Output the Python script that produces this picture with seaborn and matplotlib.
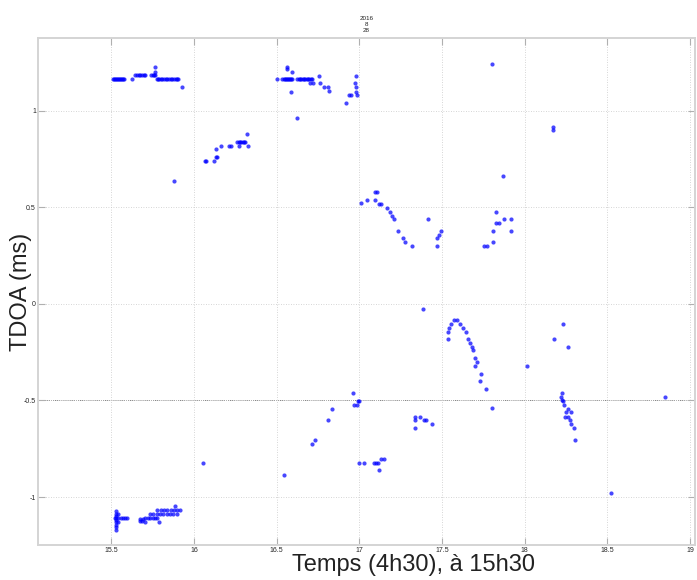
import numpy as np
import pandas as pd
import matplotlib
matplotlib.use("Agg")
import matplotlib.pyplot as plt
import seaborn as sns

# --- TDOA detections, grouped by track (time in decimal hours, TDOA in ms) ---
t_a = [15.512, 15.518, 15.524, 15.530, 15.536, 15.542, 15.548, 15.554, 15.560, 15.566,
       15.572, 15.578, 15.626, 15.646, 15.656, 15.666, 15.676, 15.686, 15.696, 15.706,
       15.741, 15.750, 15.758, 15.767, 15.767, 15.767, 15.775, 15.783, 15.791, 15.800,
       15.810, 15.820, 15.830, 15.840, 15.850, 15.860, 15.870, 15.880, 15.890, 15.898,
       15.906, 15.929, 15.878]
v_a = [1.163, 1.163, 1.163, 1.163, 1.163, 1.163, 1.163, 1.163, 1.163, 1.163,
       1.163, 1.163, 1.163, 1.184, 1.184, 1.184, 1.184, 1.184, 1.184, 1.184,
       1.184, 1.184, 1.184, 1.184, 1.224, 1.201, 1.163, 1.163, 1.163, 1.163,
       1.163, 1.163, 1.163, 1.163, 1.163, 1.163, 1.163, 1.163, 1.163, 1.163,
       1.163, 1.120, 0.638]

t_b = [16.070, 16.076, 16.120, 16.131, 16.141, 16.131, 16.165, 16.211, 16.226, 16.262,
       16.270, 16.278, 16.286, 16.294, 16.302, 16.310, 16.272, 16.319, 16.327]
v_b = [0.739, 0.739, 0.739, 0.759, 0.759, 0.800, 0.818, 0.818, 0.818, 0.839,
       0.839, 0.839, 0.839, 0.839, 0.839, 0.839, 0.818, 0.879, 0.818]

t_c = [16.505, 16.535, 16.542, 16.549, 16.556, 16.563, 16.570, 16.577, 16.584, 16.590,
       16.596, 16.626, 16.634, 16.642, 16.650, 16.658, 16.666, 16.674, 16.682, 16.690,
       16.698, 16.706, 16.717, 16.560, 16.560, 16.596, 16.590, 16.626, 16.703, 16.723,
       16.757, 16.763, 16.787, 16.808, 16.818, 16.919, 16.935, 16.949, 16.980, 16.974,
       16.981, 16.980, 16.986]
v_c = [1.162, 1.162, 1.162, 1.162, 1.162, 1.162, 1.162, 1.162, 1.162, 1.162,
       1.162, 1.162, 1.162, 1.162, 1.162, 1.162, 1.162, 1.162, 1.162, 1.162,
       1.162, 1.162, 1.162, 1.224, 1.215, 1.201, 1.098, 0.960, 1.143, 1.143,
       1.180, 1.141, 1.120, 1.120, 1.100, 1.041, 1.081, 1.081, 1.180, 1.141,
       1.120, 1.098, 1.081]

t_d = [17.010, 17.046, 17.107, 17.095, 17.095, 17.121, 17.131, 17.168, 17.188, 17.196,
       17.208, 17.233, 17.263, 17.279, 17.317, 17.418, 17.471, 17.469, 17.481, 17.495]
v_d = [0.521, 0.538, 0.578, 0.578, 0.538, 0.517, 0.517, 0.498, 0.477, 0.457,
       0.438, 0.377, 0.340, 0.319, 0.298, 0.438, 0.298, 0.340, 0.358, 0.377]

t_e = [17.869, 17.824, 17.824, 17.843, 17.873, 17.915, 17.809, 17.918, 17.809, 17.754,
       17.774, 17.804, 18.174, 18.174]
v_e = [0.662, 0.477, 0.417, 0.417, 0.438, 0.438, 0.377, 0.377, 0.319, 0.298,
       0.298, 1.241, 0.915, 0.900]

t_f = [17.388, 17.536, 17.542, 17.552, 17.576, 17.592, 17.610, 17.627, 17.643, 17.657,
       17.667, 17.681, 17.687, 17.703, 17.713, 17.701, 17.738, 17.732, 17.768, 17.536,
       17.804, 18.017, 18.179, 18.233, 18.263]
v_f = [-0.026, -0.146, -0.126, -0.105, -0.086, -0.086, -0.105, -0.126, -0.146, -0.181,
       -0.200, -0.221, -0.241, -0.281, -0.301, -0.321, -0.362, -0.400, -0.441, -0.181,
       -0.541, -0.321, -0.181, -0.105, -0.221]

t_g = [18.229, 18.219, 18.227, 18.233, 18.237, 18.263, 18.253, 18.279, 18.243, 18.263,
       18.273, 18.283, 18.297, 18.303]
v_g = [-0.462, -0.484, -0.500, -0.505, -0.522, -0.543, -0.562, -0.562, -0.583, -0.586,
       -0.603, -0.622, -0.640, -0.703]

t_h = [16.963, 16.990, 17.000, 16.969, 16.986, 16.838, 16.808, 16.731, 16.717, 17.000,
       17.026, 17.087, 17.101, 17.115, 17.117, 17.131, 17.151, 17.339, 17.370, 17.339,
       17.394, 17.404, 17.441, 17.337, 16.058, 16.543, 18.847, 18.520]
v_h = [-0.462, -0.502, -0.502, -0.522, -0.522, -0.543, -0.603, -0.703, -0.724, -0.824,
       -0.824, -0.824, -0.824, -0.824, -0.862, -0.803, -0.803, -0.583, -0.583, -0.603,
       -0.603, -0.603, -0.620, -0.643, -0.822, -0.884, -0.481, -0.977]

t_i = [15.530, 15.530, 15.530, 15.530, 15.530, 15.530, 15.530, 15.530, 15.530, 15.541,
       15.541, 15.541, 15.524, 15.560, 15.572, 15.585, 15.598, 15.676, 15.686, 15.676,
       15.694, 15.706, 15.720, 15.735, 15.750, 15.765, 15.777, 15.737, 15.755, 15.775,
       15.795, 15.815, 15.835, 15.855, 15.875, 15.898, 15.777, 15.800, 15.820, 15.840,
       15.860, 15.880, 15.900, 15.918, 15.888, 15.787, 15.706]
v_i = [-1.074, -1.088, -1.100, -1.108, -1.120, -1.131, -1.143, -1.155, -1.169, -1.088,
       -1.108, -1.131, -1.108, -1.108, -1.108, -1.108, -1.108, -1.125, -1.125, -1.113,
       -1.113, -1.108, -1.108, -1.108, -1.108, -1.108, -1.108, -1.086, -1.086, -1.086,
       -1.086, -1.086, -1.086, -1.086, -1.086, -1.086, -1.069, -1.069, -1.069, -1.069,
       -1.069, -1.069, -1.069, -1.069, -1.048, -1.129, -1.129]

x_ticks = [15.5, 16, 16.5, 17, 17.5, 18, 18.5, 19]
x_tick_labels = ["15.5", "16", "16.5", "17", "17.5", "18", "18.5", "19"]
y_ticks = [-1, -0.5, 0, 0.5, 1]
y_tick_labels = ["-1", "-0.5", "0", "0.5", "1"]

tracks = [(t_a, v_a), (t_b, v_b), (t_c, v_c), (t_d, v_d), (t_e, v_e),
          (t_f, v_f), (t_g, v_g), (t_h, v_h), (t_i, v_i)]
df = pd.concat([pd.DataFrame({"temps": t, "tdoa": v}) for t, v in tracks],
               ignore_index=True)

sns.set_theme(style="white")
plt.rcParams["font.family"] = ["Liberation Sans", "DejaVu Sans"]

fig = plt.figure(figsize=(6.97, 5.80), dpi=100)
ax = fig.add_axes([0.0545, 0.0603, 0.9425, 0.8742])

sns.scatterplot(data=df, x="temps", y="tdoa", ax=ax, color="#0000ff",
                s=9, linewidth=0, alpha=0.72, marker="o", legend=False)

ax.set_xlim(15.057, 19.03)
ax.set_ylim(-1.248, 1.376)
ax.set_xticks(x_ticks)
ax.set_xticklabels(x_tick_labels)
ax.set_yticks(y_ticks)
ax.set_yticklabels(y_tick_labels)

ax.grid(True, color="#c8c8c8", linestyle=(0, (1, 2)), linewidth=0.6)
ax.axhline(-0.5, color="#555555", linestyle=(0, (1, 1.5)), linewidth=0.6, zorder=0.5)
ax.set_axisbelow(True)

for sp in ax.spines.values():
    sp.set_color("#d4d4d4")
    sp.set_linewidth(1.4)

ax.tick_params(axis="both", direction="in", length=5, width=0.8, color="#b0b0b0",
               labelsize=5, pad=1.5, top=True, right=True, bottom=True, left=True)

ax.set_xlabel("Temps (4h30), à 15h30", fontsize=17, color="#222222")
ax.set_ylabel("TDOA (ms)", fontsize=17, color="#222222")
ax.xaxis.set_label_coords(0.572, -0.018)
ax.yaxis.set_label_coords(-0.009, 0.5)

ax.set_title("2016\n8\n28", fontsize=4.5, pad=4, linespacing=1.3, color="#222222")

fig.savefig("out.png", dpi=100)
